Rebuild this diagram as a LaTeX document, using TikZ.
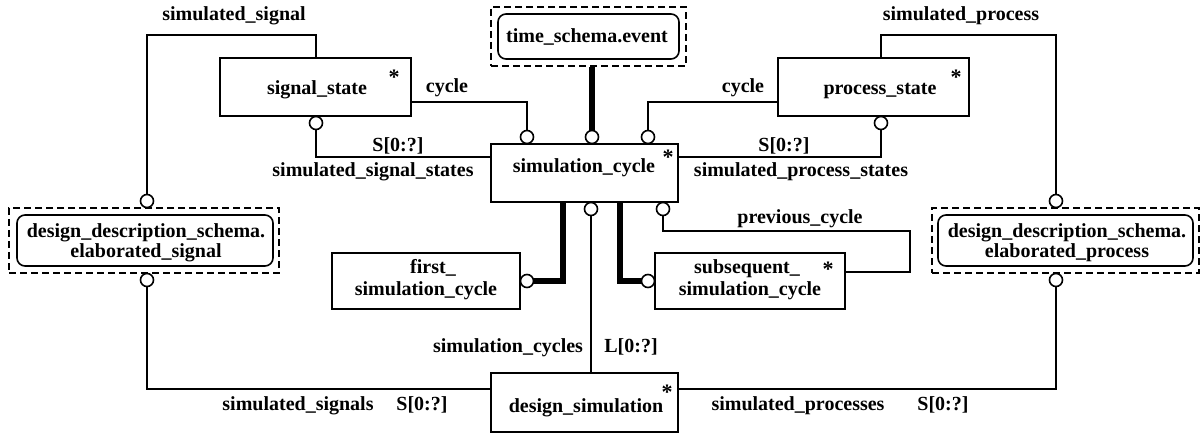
\documentclass[tikz,border=0pt]{standalone}
\usepackage{fontspec}
\setmainfont{Liberation Serif}
\usetikzlibrary{backgrounds}
\begin{document}
\begin{tikzpicture}[x=1pt,y=-1pt,
  font=\fontsize{20}{21.5}\selectfont\bfseries,
  ent/.style={draw, line width=1.6pt, inner sep=0pt, fill=white},
  ext/.style={draw, line width=1.6pt, rounded corners=8pt, inner sep=0pt, fill=white},
  frame/.style={draw, line width=1.6pt, dash pattern=on 7pt off 4pt, inner sep=0pt},
  ring/.style={circle, draw, line width=1.6pt, minimum size=13pt, inner sep=0pt, fill=white},
  rel/.style={line width=1.6pt},
  sub/.style={line width=5.5pt},
  txt/.style={inner sep=0pt, anchor=base},
  ast/.style={inner sep=0pt, anchor=base, font=\fontsize{22}{22}\selectfont\bfseries}]
\useasboundingbox (0,0) rectangle (1203,433);

% entity boxes
\node[ent, minimum width=191pt, minimum height=58pt] (ss) at (315.5,87) {};
\node[ent, minimum width=191pt, minimum height=58pt] (ps) at (873.5,87) {};
\node[ent, minimum width=187pt, minimum height=58pt] (sc) at (584.5,173) {};
\node[ent, minimum width=188pt, minimum height=56pt] (fsc) at (426,281) {};
\node[ent, minimum width=190pt, minimum height=56pt] (ssc) at (750,281) {};
\node[ent, minimum width=187pt, minimum height=59pt] (ds) at (584.5,402.5) {};

% referenced entities from other schemas
\node[frame, minimum width=195pt, minimum height=59pt] (tseF) at (588.5,36.5) {};
\node[ext, minimum width=181pt, minimum height=45pt] (tse) at (588.5,36.5) {};
\node[frame, minimum width=270pt, minimum height=65pt] (ddsF) at (144,240.5) {};
\node[ext, minimum width=256pt, minimum height=51pt] (dds) at (145,240.5) {};
\node[frame, minimum width=267pt, minimum height=65pt] (ddpF) at (1065.5,240.5) {};
\node[ext, minimum width=255pt, minimum height=51pt] (ddp) at (1065.5,240.5) {};

% entity names
\node[txt] (ss-n) at (317,95) {signal\_state};
\node[txt] (ps-n) at (880,95) {process\_state};
\node[txt] (sc-n) at (584,173) {simulation\_cycle};
\node[txt] (ds-n) at (586,412) {design\_simulation};
\node[txt] (fsc-n1) at (433,273) {first\_};
\node[txt] (fsc-n2) at (426,295) {simulation\_cycle};
\node[txt] (ssc-n1) at (747,273) {subsequent\_};
\node[txt] (ssc-n2) at (750,295) {simulation\_cycle};
\node[txt] (tse-n) at (587,43) {time\_schema.event};
\node[txt] (dds-n1) at (146,237) {design\_description\_schema.};
\node[txt] (dds-n2) at (146,258) {elaborated\_signal};
\node[txt] (ddp-n1) at (1067,237) {design\_description\_schema.};
\node[txt] (ddp-n2) at (1067,258) {elaborated\_process};

% abstract markers
\node[ast] (ss-a) at (394,85) {*};
\node[ast] (ps-a) at (956,85) {*};
\node[ast] (sc-a) at (668,165) {*};
\node[ast] (ssc-a) at (828,276) {*};
\node[ast] (ds-a) at (667,399) {*};

% relationship end circles
\node[ring] (cA) at (147,201) {};
\node[ring] (cB) at (147,280) {};
\node[ring] (cC) at (1056,201) {};
\node[ring] (cD) at (1056,280) {};
\node[ring] (cE) at (316,123) {};
\node[ring] (cF) at (881,123) {};
\node[ring] (cG) at (527,137) {};
\node[ring] (cH) at (592,137) {};
\node[ring] (cI) at (648,137) {};
\node[ring] (cJ) at (591,209) {};
\node[ring] (cK) at (663,209) {};
\node[ring] (cL) at (527,281) {};
\node[ring] (cM) at (648,281) {};

\coordinate (pcTurn) at (910,231);

% relationship lines
\begin{scope}[on background layer]
\draw[rel] (ss.north -| cE) -- ++(0,-22) -| (cA.north);
\draw[rel] (ps.north -| cF) -- ++(0,-22) -| (cC.north);
\draw[rel] (cE.south) |- ([yshift=16pt]sc.west);
\draw[rel] (cF.south) |- ([yshift=16pt]sc.east);
\draw[rel] ([yshift=-15pt]ss.east) -| (cG.north);
\draw[rel] ([yshift=-15pt]ps.west) -| (cI.north);
\draw[sub] (tseF.south -| cH) -- (cH.north);
\draw[sub] ([xshift=-21.5pt]sc.south) |- (cL.east);
\draw[sub] ([xshift=35.5pt]sc.south) |- (cM.west);
\draw[rel] (cK.south) |- (pcTurn) |- ([yshift=9pt]ssc.east);
\draw[rel] (cJ.south) -- (ds.north -| cJ);
\draw[rel] (cB.south) |- ([yshift=13.5pt]ds.west);
\draw[rel] (cD.south) |- ([yshift=13.5pt]ds.east);
\end{scope}

% role labels
\node[txt] (l1) at (234,21) {simulated\_signal};
\node[txt] (l2) at (961,21) {simulated\_process};
\node[txt] (l3) at (447,93) {cycle};
\node[txt] (l4) at (743,93) {cycle};
\node[txt] (l5) at (398,152) {S[0:?]};
\node[txt] (l6) at (373,177) {simulated\_signal\_states};
\node[txt] (l7) at (784,152) {S[0:?]};
\node[txt] (l8) at (801,177) {simulated\_process\_states};
\node[txt] (l9) at (800,223) {previous\_cycle};
\node[txt] (l10) at (508,352) {simulation\_cycles};
\node[txt] (l11) at (631,352) {L[0:?]};
\node[txt] (l12) at (298,410) {simulated\_signals};
\node[txt] (l13) at (422,410) {S[0:?]};
\node[txt] (l14) at (798,410) {simulated\_processes};
\node[txt] (l15) at (943,410) {S[0:?]};
\end{tikzpicture}
\end{document}
